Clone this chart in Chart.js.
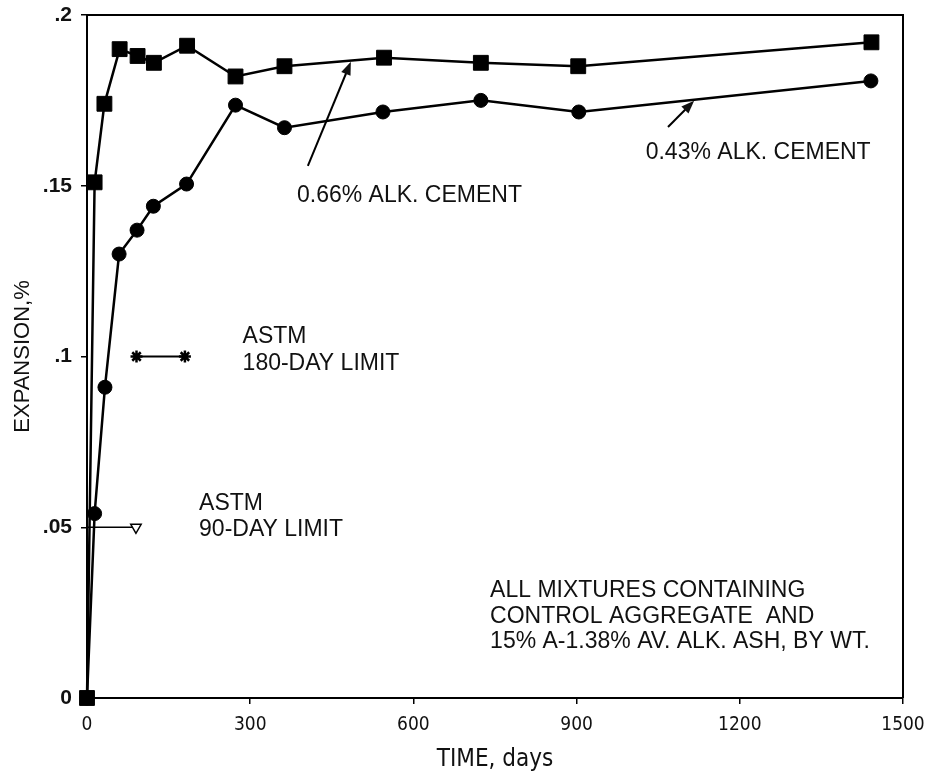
<!DOCTYPE html>
<html><head><meta charset="utf-8">
<script src="https://cdn.jsdelivr.net/npm/chart.js@4"></script>
<style>html,body{margin:0;padding:0;background:#fff}</style>
</head><body>
<canvas id="c" width="928" height="777"></canvas>
<script>
// ---- data ----
const days066 = [0, 14, 32, 60, 93, 123, 184, 273, 363, 546, 724, 903, 1442];
const exp066  = [0, 0.151, 0.174, 0.190, 0.188, 0.186, 0.191, 0.182, 0.185, 0.1875, 0.186, 0.185, 0.192];
const days043 = [0, 14, 33, 59, 92, 122, 183, 273, 363, 544, 724, 904, 1441];
const exp043  = [0, 0.054, 0.091, 0.130, 0.137, 0.144, 0.1505, 0.1736, 0.167, 0.1716, 0.175, 0.1716, 0.1807];
const limit180Days = [91, 180];
const limit180Exp  = [0.1, 0.1];
const limit90Days  = [0, 90];
const limit90Exp   = [0.05, 0.05];
const xTicks = [0, 300, 600, 900, 1200, 1500];
const yTicks = [0, 0.05, 0.1, 0.15, 0.2];
const yTickLabels = ['0', '.05', '.1', '.15', '.2'];

// annotation anchors (data coordinates)
const noteTexts  = ['0.66% ALK. CEMENT', '0.43% ALK. CEMENT', 'ASTM', '180-DAY LIMIT', 'ASTM', '90-DAY LIMIT'];
const noteDays   = [386, 1027, 286, 286, 206, 206];
const noteValues = [0.147, 0.1596, 0.1058, 0.0978, 0.0570, 0.0492];
const blockTexts  = ['ALL MIXTURES CONTAINING', 'CONTROL AGGREGATE  AND', '15% A-1.38% AV. ALK. ASH, BY WT.'];
const blockDay    = 741;
const blockValues = [0.0313, 0.0237, 0.0164];
const arrowTailDays = [406, 1068];
const arrowTailVals = [0.1558, 0.1672];
const arrowTipDays  = [485, 1116];
const arrowTipVals  = [0.1863, 0.1749];

const toPts = (xs, ys) => xs.map((x, i) => ({x: x, y: ys[i]}));

const notesPlugin = {
  id: 'notes',
  afterDraw(chart) {
    const {ctx, chartArea: a, scales: {x, y}} = chart;
    ctx.save();
    ctx.strokeStyle = '#000';
    ctx.lineWidth = 2;
    ctx.beginPath();
    ctx.moveTo(a.left, a.top); ctx.lineTo(a.right, a.top); ctx.lineTo(a.right, a.bottom);
    ctx.stroke();
    ctx.fillStyle = '#111';
    ctx.textBaseline = 'middle';
    ctx.textAlign = 'left';
    ctx.font = '23px "Liberation Sans", Arial, sans-serif';
    noteTexts.forEach((t, i) => {
      ctx.fillText(t, x.getPixelForValue(noteDays[i]), y.getPixelForValue(noteValues[i]));
    });
    blockTexts.forEach((t, i) => {
      ctx.fillText(t, x.getPixelForValue(blockDay), y.getPixelForValue(blockValues[i]));
    });
    arrowTailDays.forEach((d, i) => {
      const x1 = x.getPixelForValue(d), y1 = y.getPixelForValue(arrowTailVals[i]);
      const x2 = x.getPixelForValue(arrowTipDays[i]), y2 = y.getPixelForValue(arrowTipVals[i]);
      const ang = Math.atan2(y2 - y1, x2 - x1);
      const L = 13, W = 5;
      ctx.lineWidth = 2;
      ctx.beginPath(); ctx.moveTo(x1, y1);
      ctx.lineTo(x2 - L * 0.6 * Math.cos(ang), y2 - L * 0.6 * Math.sin(ang)); ctx.stroke();
      ctx.beginPath();
      ctx.moveTo(x2, y2);
      ctx.lineTo(x2 - L * Math.cos(ang) + W * Math.sin(ang), y2 - L * Math.sin(ang) - W * Math.cos(ang));
      ctx.lineTo(x2 - L * Math.cos(ang) - W * Math.sin(ang), y2 - L * Math.sin(ang) + W * Math.cos(ang));
      ctx.closePath(); ctx.fill();
    });
    ctx.restore();
  }
};

const whiteBg = {
  id: 'bg',
  beforeDraw(chart) {
    const c = chart.ctx; c.save(); c.fillStyle = '#fff'; c.fillRect(0, 0, chart.width, chart.height); c.restore();
  }
};

const condFont = "'DejaVu Sans Condensed', 'Liberation Sans Narrow', 'DejaVu Sans', sans-serif";

new Chart(document.getElementById('c'), {
  type: 'scatter',
  data: {
    datasets: [
      { label: '0.66% ALK. CEMENT', data: toPts(days066, exp066), showLine: true,
        borderColor: '#000', backgroundColor: '#000', borderWidth: 2.5,
        pointStyle: 'rect', pointRadius: 10.5, pointBorderWidth: 1, clip: false },
      { label: '0.43% ALK. CEMENT', data: toPts(days043, exp043), showLine: true,
        borderColor: '#000', backgroundColor: '#000', borderWidth: 2.5,
        pointStyle: 'circle', pointRadius: 7, pointBorderWidth: 1, clip: false },
      { label: 'ASTM 180-DAY LIMIT', data: toPts(limit180Days, limit180Exp), showLine: true,
        borderColor: '#000', backgroundColor: '#000', borderWidth: 2,
        pointStyle: 'star', pointRadius: 6, pointBorderWidth: 2.5, clip: false },
      { label: 'ASTM 90-DAY LIMIT', data: toPts(limit90Days, limit90Exp), showLine: true,
        borderColor: '#000', backgroundColor: '#fff', borderWidth: 1.5,
        pointStyle: 'triangle', pointRotation: 180, pointRadius: [0, 6], pointBorderWidth: 1.5, clip: false }
    ]
  },
  options: {
    responsive: false,
    animation: false,
    devicePixelRatio: 1,
    layout: { padding: { top: 15, right: 25, left: 0, bottom: 0 } },
    plugins: { legend: { display: false }, tooltip: { enabled: false } },
    scales: {
      x: {
        type: 'linear', min: 0, max: 1500,
        afterFit(s) { s.height = 79; s.paddingLeft = 0; s.paddingRight = 0; },
        afterBuildTicks(s) { s.ticks = xTicks.map(v => ({value: v})); },
        border: { display: true, color: '#000', width: 2 },
        grid: { display: true, drawOnChartArea: false, drawTicks: true, tickLength: 6, color: '#000', lineWidth: 1.5 },
        ticks: { color: '#111', padding: 10, maxRotation: 0,
                 callback: (v) => String(v),
                 font: { family: condFont, size: 19 } },
        title: { display: true, text: 'TIME, days', color: '#111', padding: { top: 0, bottom: 3 },
                 font: { family: condFont, size: 24 } }
      },
      y: {
        type: 'linear', min: 0, max: 0.2,
        afterFit(s) { s.width = 87; s.paddingTop = 0; s.paddingBottom = 0; },
        afterBuildTicks(s) { s.ticks = yTicks.map(v => ({value: v})); },
        border: { display: true, color: '#000', width: 2 },
        grid: { display: true, drawOnChartArea: false, drawTicks: true, tickLength: 6, color: '#000', lineWidth: 1.5 },
        ticks: { color: '#111', padding: 9,
                 callback: (v) => { const i = yTicks.findIndex(t => Math.abs(t - v) < 1e-9); return i >= 0 ? yTickLabels[i] : ''; },
                 font: { family: "'Liberation Sans', Arial, sans-serif", size: 21, weight: 'bold' } },
        title: { display: true, text: 'EXPANSION,%', color: '#111', padding: { top: 10, bottom: 0 },
                 font: { family: "'Liberation Sans', Arial, sans-serif", size: 22 } }
      }
    }
  },
  plugins: [whiteBg, notesPlugin]
});
</script>
</body></html>
